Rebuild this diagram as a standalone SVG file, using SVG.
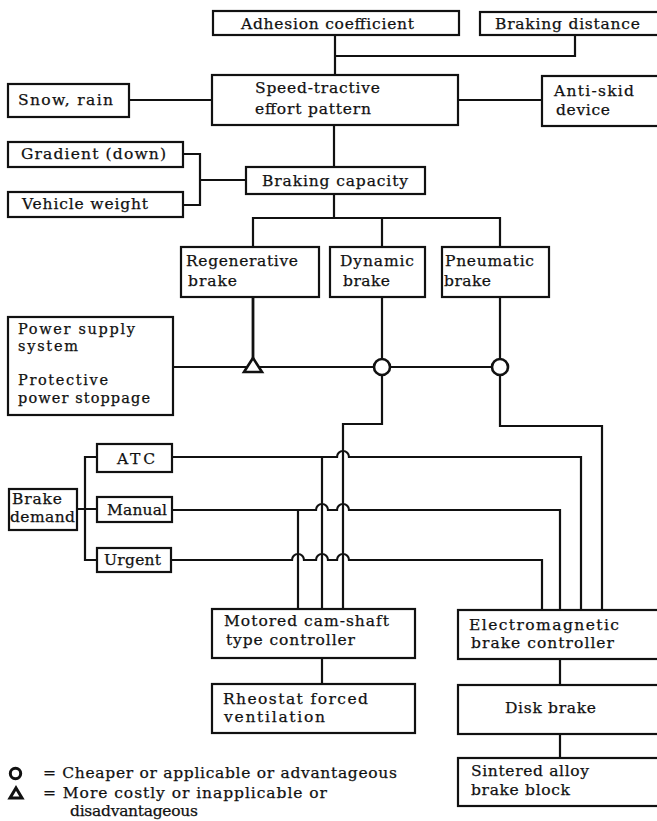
<svg xmlns="http://www.w3.org/2000/svg" width="657" height="821" viewBox="0 0 657 821">
  <style>
    .box { fill: #fff; stroke: #111; stroke-width: 2.2; }
    .wire { fill: none; stroke: #111; stroke-width: 2.2; stroke-linejoin: miter; }
    .mark { fill: #fff; stroke: #111; stroke-width: 2.6; }
    .key { fill: #fff; stroke: #111; stroke-width: 3; }
    text { font-family: "DejaVu Serif", "Liberation Serif", serif; font-size: 15.5px; fill: #111; stroke: #111; stroke-width: 0.25; }
    .small { font-size: 14.5px; }
  </style>
  <rect width="657" height="821" fill="#fff"/>

  <!-- connectors -->
  <g id="connectors" class="wire">
    <path d="M335 35 V75 M575 35 V56 H335"/>
    <path d="M129 100 H212 M458 100 H542"/>
    <path d="M334 125 V167"/>
    <path d="M183 154 H200 V205 H183 M200 180 H246"/>
    <path d="M334 194 V218 M253 247 V218 H500 V247 M382 218 V247"/>
    <path d="M253 297 V360" stroke-width="2.8"/>
    <path d="M382 297 V367 V424 H343 V609"/>
    <path d="M500 297 V367 V426 H602 V610"/>
    <path d="M173 367 H500"/>
    <!-- brake demand fan-out -->
    <path d="M77 509 H97 M97 457 H85 V560 H97"/>
    <!-- ATC -->
    <path d="M172 457 H337 A6 6 0 0 1 349 457 H581 V610"/>
    <path d="M322 457 V609"/>
    <!-- Manual -->
    <path d="M172 510 H316 A6 6 0 0 1 328 510 H337 A6 6 0 0 1 349 510 H560 V610"/>
    <path d="M298 510 V609"/>
    <!-- Urgent -->
    <path d="M171 560 H292 A6 6 0 0 1 304 560 H316 A6 6 0 0 1 328 560 H337 A6 6 0 0 1 349 560 H542 V610"/>
    <path d="M322 658 V684"/>
    <path d="M560 659 V685 M560 734 V758"/>
  </g>

  <!-- evaluation marks on the power supply line -->
  <g id="marks">
    <polygon class="mark" points="253,358 262,372 244,372"/>
    <circle class="mark" cx="382" cy="367" r="8"/>
    <circle class="mark" cx="500" cy="367" r="8"/>
  </g>

  <g id="adhesion">
    <rect class="box" x="213" y="11" width="246" height="24"/>
    <text x="241" y="29" textLength="173" lengthAdjust="spacing">Adhesion coefficient</text>
  </g>
  <g id="braking-distance">
    <rect class="box" x="480" y="12" width="190" height="23"/>
    <text x="495" y="29" textLength="145" lengthAdjust="spacing">Braking distance</text>
  </g>
  <g id="snow-rain">
    <rect class="box" x="8" y="84" width="121" height="33"/>
    <text x="18" y="105" textLength="95" lengthAdjust="spacing">Snow, rain</text>
  </g>
  <g id="speed-tractive">
    <rect class="box" x="212" y="75" width="246" height="50"/>
    <text x="255" y="93" textLength="125" lengthAdjust="spacing">Speed-tractive</text>
    <text x="255" y="114" textLength="116" lengthAdjust="spacing">effort pattern</text>
  </g>
  <g id="anti-skid">
    <rect class="box" x="542" y="76" width="130" height="50"/>
    <text x="554" y="96" textLength="80" lengthAdjust="spacing">Anti-skid</text>
    <text x="556" y="115" textLength="54" lengthAdjust="spacing">device</text>
  </g>
  <g id="gradient">
    <rect class="box" x="8" y="142" width="175" height="25"/>
    <text x="21" y="159" textLength="145" lengthAdjust="spacing">Gradient (down)</text>
  </g>
  <g id="vehicle-weight">
    <rect class="box" x="8" y="192" width="175" height="25"/>
    <text x="22" y="209" textLength="126" lengthAdjust="spacing">Vehicle weight</text>
  </g>
  <g id="braking-capacity">
    <rect class="box" x="246" y="167" width="179" height="27"/>
    <text x="262" y="186" textLength="146" lengthAdjust="spacing">Braking capacity</text>
  </g>
  <g id="regenerative">
    <rect class="box" x="181" y="247" width="138" height="50"/>
    <text x="186" y="266" textLength="112" lengthAdjust="spacing">Regenerative</text>
    <text x="188" y="286" textLength="49" lengthAdjust="spacing">brake</text>
  </g>
  <g id="dynamic">
    <rect class="box" x="330" y="247" width="95" height="50"/>
    <text x="340" y="266" textLength="74" lengthAdjust="spacing">Dynamic</text>
    <text x="343" y="286" textLength="47" lengthAdjust="spacing">brake</text>
  </g>
  <g id="pneumatic">
    <rect class="box" x="442" y="247" width="107" height="50"/>
    <text x="445" y="266" textLength="89" lengthAdjust="spacing">Pneumatic</text>
    <text x="444" y="286" textLength="47" lengthAdjust="spacing">brake</text>
  </g>
  <g id="power-supply">
    <rect class="box" x="8" y="317" width="165" height="98"/>
    <text class="small" x="18" y="334" textLength="117" lengthAdjust="spacing">Power supply</text>
    <text class="small" x="18" y="351" textLength="60" lengthAdjust="spacing">system</text>
    <text class="small" x="18" y="385" textLength="90" lengthAdjust="spacing">Protective</text>
    <text class="small" x="18" y="403" textLength="132" lengthAdjust="spacing">power stoppage</text>
  </g>
  <g id="brake-demand">
    <rect class="box" x="9" y="489" width="68" height="41"/>
    <text x="12" y="504" textLength="50" lengthAdjust="spacing">Brake</text>
    <text x="10" y="522" textLength="65" lengthAdjust="spacing">demand</text>
  </g>
  <g id="atc">
    <rect class="box" x="97" y="444" width="75" height="28"/>
    <text x="117" y="464" textLength="38" lengthAdjust="spacing">ATC</text>
  </g>
  <g id="manual">
    <rect class="box" x="97" y="497" width="75" height="25"/>
    <text x="107" y="515" textLength="60" lengthAdjust="spacing">Manual</text>
  </g>
  <g id="urgent">
    <rect class="box" x="97" y="548" width="74" height="24"/>
    <text x="104" y="565" textLength="57" lengthAdjust="spacing">Urgent</text>
  </g>
  <g id="cam-shaft-controller">
    <rect class="box" x="212" y="609" width="203" height="49"/>
    <text x="224" y="626" textLength="165" lengthAdjust="spacing">Motored cam-shaft</text>
    <text x="226" y="645" textLength="129" lengthAdjust="spacing">type controller</text>
  </g>
  <g id="rheostat">
    <rect class="box" x="212" y="684" width="203" height="49"/>
    <text x="223" y="704" textLength="145" lengthAdjust="spacing">Rheostat forced</text>
    <text x="224" y="722" textLength="101" lengthAdjust="spacing">ventilation</text>
  </g>
  <g id="em-brake-controller">
    <rect class="box" x="458" y="610" width="212" height="49"/>
    <text x="469" y="630" textLength="150" lengthAdjust="spacing">Electromagnetic</text>
    <text x="471" y="648" textLength="143" lengthAdjust="spacing">brake controller</text>
  </g>
  <g id="disk-brake">
    <rect class="box" x="458" y="685" width="212" height="49"/>
    <text x="505" y="713" textLength="91" lengthAdjust="spacing">Disk brake</text>
  </g>
  <g id="sintered-block">
    <rect class="box" x="458" y="758" width="212" height="48"/>
    <text x="471" y="776" textLength="118" lengthAdjust="spacing">Sintered alloy</text>
    <text x="471" y="795" textLength="99" lengthAdjust="spacing">brake block</text>
  </g>

  <!-- key -->
  <g id="legend">
    <circle class="key" cx="15.5" cy="773.5" r="5.2"/>
    <polygon class="key" points="16,788 22,798 10,798"/>
    <text x="43" y="778" textLength="354" lengthAdjust="spacing">= Cheaper or applicable or advantageous</text>
    <text x="43" y="798" textLength="284" lengthAdjust="spacing">= More costly or inapplicable or</text>
    <text x="70" y="816" textLength="128" lengthAdjust="spacing">disadvantageous</text>
  </g>
</svg>
